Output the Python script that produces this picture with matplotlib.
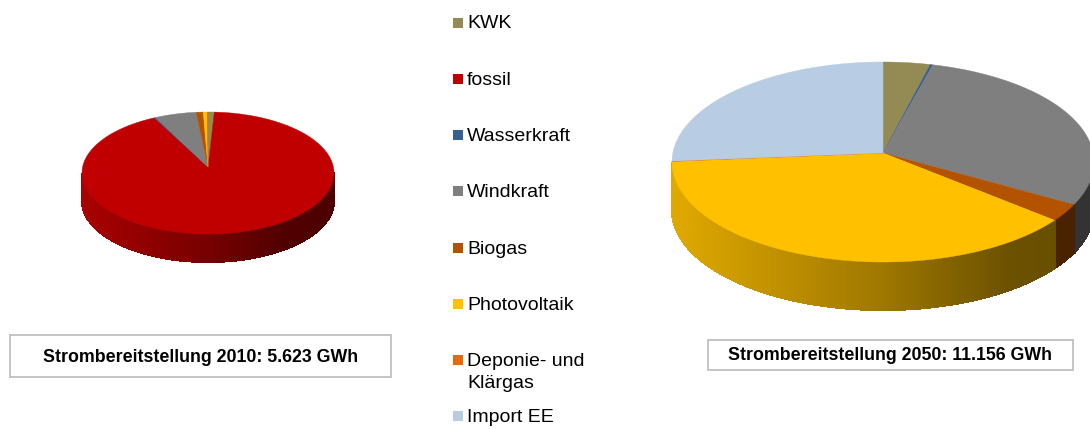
import numpy as np
import matplotlib
matplotlib.use('Agg')
import matplotlib.pyplot as plt
from matplotlib.patches import Rectangle

plt.rcParams['font.family'] = ['Liberation Sans', 'DejaVu Sans']

# categories in clockwise order, shares in percent
names = ['KWK', 'fossil', 'Wasserkraft', 'Windkraft', 'Biogas',
         'Photovoltaik', 'Deponie- und\nKlärgas', 'Import EE']
colors = ['#948A54', '#C00000', '#366092', '#7F7F7F', '#B35300',
          '#FFC000', '#E36C09', '#B8CCE4']
share_2010 = [0.8, 92.2, 0.2, 5.3, 0.9, 0.5, 0.1, 0.0]
share_2050 = [3.6, 0.0, 0.2, 28.2, 2.9, 40.2, 0.05, 24.85]
title_2010 = 'Strombereitstellung 2010: 5.623 GWh'
title_2050 = 'Strombereitstellung 2050: 11.156 GWh'


def rim(t, cx, cy, rx, ry):
    # t in degrees, clockwise from the top of the pie
    r = np.radians(t)
    return cx + rx * np.sin(r), cy - ry * np.cos(r)


def pie3d(ax, values, cx, cy, apex_y, rx, ry, depth):
    total = sum(values)
    edges = np.concatenate([[0], np.cumsum(values)]) / total * 360

    # side wall first, only the front half can be seen
    for i in range(len(values)):
        a = max(edges[i], 90)
        b = min(edges[i + 1], 270)
        if b <= a:
            continue
        base = np.array(matplotlib.colors.to_rgb(colors[i]))
        steps = np.arange(a, b, 0.7)
        steps = np.append(steps, b)
        for s in range(len(steps) - 1):
            x, y = rim(steps[s:s + 2], cx, cy, rx, ry)
            frac = (x.mean() - (cx - rx)) / (2 * rx)
            shade = np.interp(frac, [0, 0.5, 0.8, 1], [0.88, 0.62, 0.42, 0.40])
            c = base * shade
            ax.fill([x[0], x[1], x[1], x[0]],
                    [y[0], y[1], y[1] + depth, y[0] + depth],
                    color=c, lw=0.8, antialiased=False)

    # top surface
    for i in range(len(values)):
        if values[i] == 0:
            continue
        t = np.linspace(edges[i], edges[i + 1], 200)
        x, y = rim(t, cx, cy, rx, ry)
        ax.fill(np.concatenate([[cx], x]), np.concatenate([[apex_y], y]),
                color=colors[i], lw=0.3, zorder=3)


fig = plt.figure(figsize=(10.9, 4.29), dpi=100)
ax = fig.add_axes([0, 0, 1, 1])
ax.set_xlim(0, 1090)
ax.set_ylim(429, 0)
ax.axis('off')

pie3d(ax, share_2010, 208, 173, 167, 126, 61, 28)
pie3d(ax, share_2050, 883, 162, 153, 211, 100, 48)

# legend
legend_y = [22.5, 79, 135, 191, 248, 304, 360, 416]
for i in range(len(names)):
    ax.add_patch(Rectangle((452.5, legend_y[i] - 5), 10.5, 10, color=colors[i], lw=0))
    ax.text(467, legend_y[i] + 1.5, names[i].split('\n')[0], fontsize=14,
            va='center', ha='left', color='black')
    if '\n' in names[i]:
        ax.text(467, legend_y[i] + 24, names[i].split('\n')[1], fontsize=14,
                va='center', ha='left', color='black')

# title boxes
ax.add_patch(Rectangle((9.5, 335), 381, 41.5, fc='white', ec='#BFBFBF', lw=1.3))
ax.text(200.5, 357, title_2010, fontsize=12.8, fontweight='bold', ha='center', va='center')
ax.add_patch(Rectangle((707.5, 340), 365, 30, fc='white', ec='#BFBFBF', lw=1.3))
ax.text(890.5, 356, title_2050, fontsize=12.8, fontweight='bold', ha='center', va='center')

fig.savefig('out.png', dpi=100)
